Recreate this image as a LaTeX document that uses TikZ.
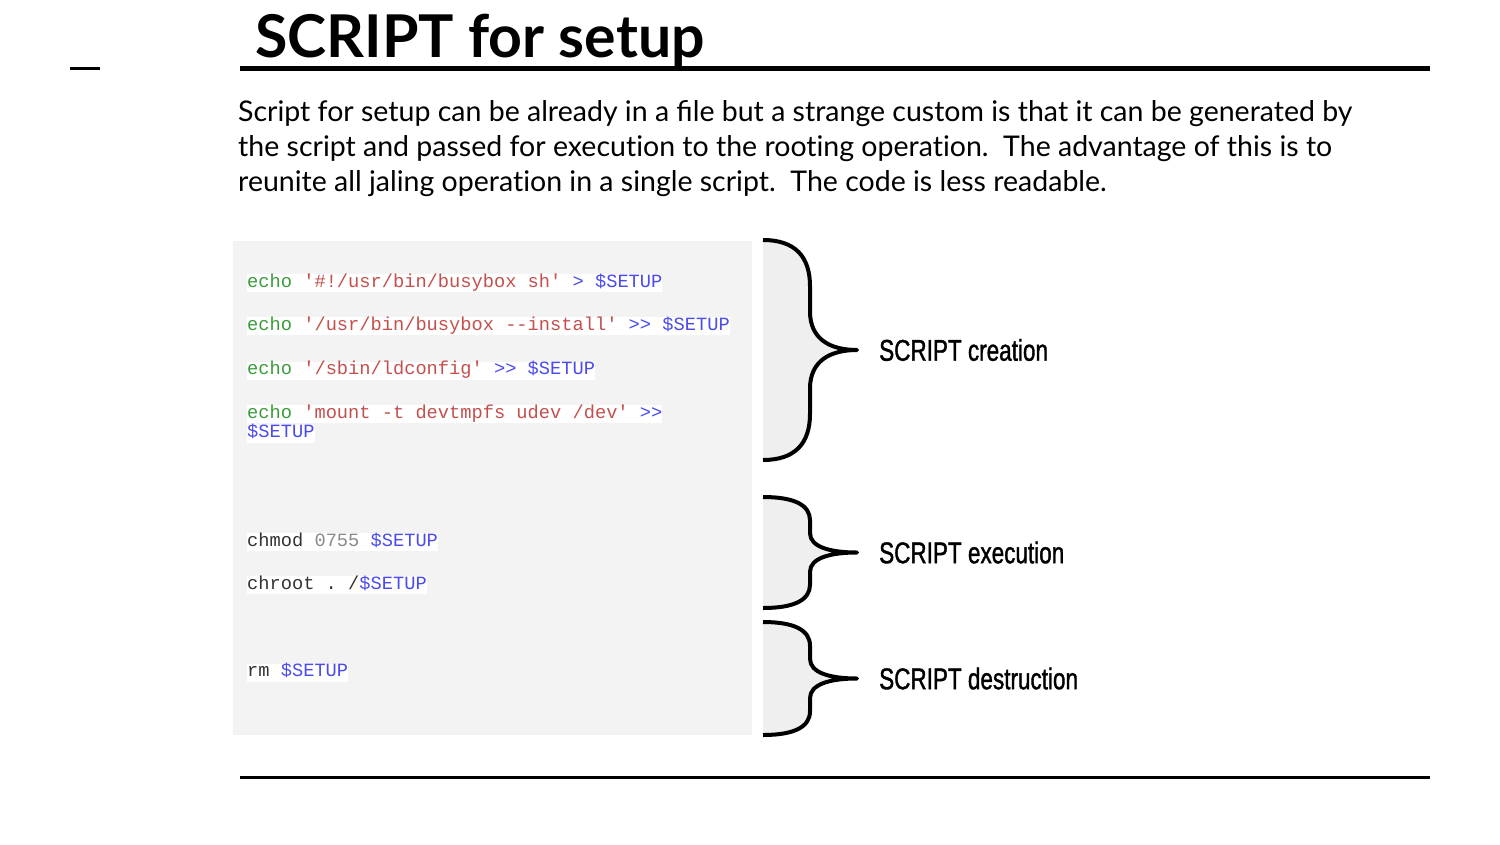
\documentclass[tikz,border=0pt]{standalone}
\usepackage{fontspec}
\setmainfont{Lato}[Ligatures=NoCommon]
\setmonofont{Liberation Mono}
\newfontfamily\phasefont[FakeStretch=0.75,FakeBold=1.2]{Liberation Sans}
\usepackage{xcolor}
\usetikzlibrary{positioning}

\definecolor{codebg}{HTML}{F3F3F3}
\definecolor{bracegray}{HTML}{EFEFEF}
\definecolor{kwgreen}{HTML}{3C9C3C}
\definecolor{strred}{HTML}{C4504E}
\definecolor{varblue}{HTML}{4B4BEE}
\definecolor{numgray}{HTML}{8A8A8A}
\definecolor{cmdblack}{HTML}{333333}

\begin{document}
\begin{tikzpicture}[
x=1pt, y=-1pt,
rule/.style={line width=5pt},
codeline/.style={anchor=base west, fill=white, inner sep=0pt, text height=13pt, text depth=5pt, font=\fontsize{18.7}{19}\ttfamily},
curly/.style={line width=4pt, fill=bracegray, line join=round},
phase/.style={anchor=west, inner sep=0pt, font=\phasefont\fontsize{30}{30}\selectfont},
intro/.style={anchor=base west, inner sep=0pt, font=\fontsize{28.5}{35}\selectfont},
]
\useasboundingbox (0,0) rectangle (1500,844);

%Title and rules
\node[anchor=base west, inner sep=0pt, font=\fontsize{59}{59}\bfseries] (title) at (255,57) {SCRIPT for setup};
\coordinate (dashL) at (70,68);
\coordinate (dashR) at (100,68);
\coordinate (topL) at (240,68);
\coordinate (topR) at (1430,68);
\coordinate (botL) at (240,777);
\coordinate (botR) at (1430,777);
\draw[line width=3pt] (dashL) -- (dashR);
\draw[rule] (topL) -- (topR);
\draw[line width=3pt] (botL) -- (botR);

%Text
\node[intro] (intro1) at (238,121) {Script for setup can be already in a ﬁle but a strange custom is that it can be generated by};
\node[intro] (intro2) at (238,156) {the script and passed for execution to the rooting operation.\ \ The advantage of this is to};
\node[intro] (intro3) at (238,191) {reunite all jaling operation in a single script.\ \ The code is less readable.};

%Code box
\fill[codebg] (233,241) rectangle (752,735);
\node[codeline] (echo1) at (247,287) {\textcolor{kwgreen}{echo} \textcolor{strred}{'\#!/usr/bin/busybox sh'} \textcolor{varblue}{> \$SETUP}};
\node[codeline] (echo2) [below right=25pt and 0pt of echo1.south west] {\textcolor{kwgreen}{echo} \textcolor{strred}{'/usr/bin/busybox -{}-install'} \textcolor{varblue}{>> \$SETUP}};
\node[codeline] (echo3) [below right=26pt and 0pt of echo2.south west] {\textcolor{kwgreen}{echo} \textcolor{strred}{'/sbin/ldconfig'} \textcolor{varblue}{>> \$SETUP}};
\node[codeline] (echo4) [below right=25pt and 0pt of echo3.south west] {\textcolor{kwgreen}{echo} \textcolor{strred}{'mount -t devtmpfs udev /dev'} \textcolor{varblue}{>>}};
\node[codeline] (echo4b) [below right=1pt and 0pt of echo4.south west] {\textcolor{varblue}{\$SETUP}};
\node[codeline] (chmod) [below right=90pt and 0pt of echo4b.south west] {\textcolor{cmdblack}{chmod} \textcolor{numgray}{0755} \textcolor{varblue}{\$SETUP}};
\node[codeline] (chroot) [below right=25pt and 0pt of chmod.south west] {\textcolor{cmdblack}{chroot . /}\textcolor{varblue}{\$SETUP}};
\node[codeline] (rm) [below right=69pt and 0pt of chroot.south west] {\textcolor{cmdblack}{rm} \textcolor{varblue}{\$SETUP}};

%Braces
\foreach \t/\b/\i in {240/460/1, 497/608/2, 622/735/3}{
  \pgfmathsetmacro\h{(\b-\t)/2}
  \draw[curly] (763,\t) .. controls (795,\t) and (810,\t+0.15*\h) .. (810,\t+0.42*\h)
    -- (810,\t+0.65*\h) .. controls (810,\t+0.9*\h) and (830,\t+\h) .. (857,\t+\h) coordinate (tip\i)
    .. controls (830,\t+\h) and (810,\t+1.1*\h) .. (810,\t+1.35*\h)
    -- (810,\b-0.42*\h) .. controls (810,\b-0.15*\h) and (795,\b) .. (763,\b);
}

%Labels
\node[phase] (creation) [right=22pt of tip1] {SCRIPT creation};
\node[phase] (execution) [right=22pt of tip2] {SCRIPT execution};
\node[phase] (destruction) [right=22pt of tip3] {SCRIPT destruction};
\end{tikzpicture}
\end{document}
